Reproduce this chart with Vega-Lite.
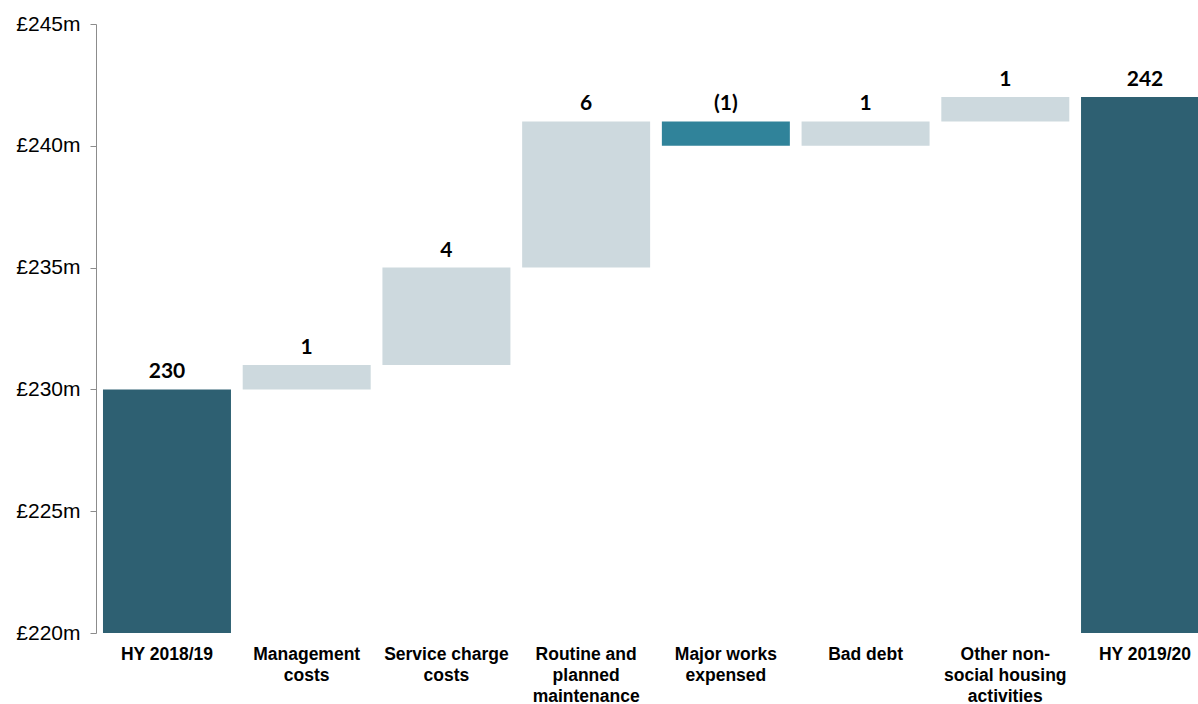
{
  "$schema": "https://vega.github.io/schema/vega-lite/v6.json",
  "autosize": "none",
  "width": 1120,
  "height": 609,
  "padding": {"left": 96, "top": 24, "right": 0, "bottom": 71},
  "background": "white",
  "config": {"view": {"stroke": null}},
  "data": {
    "values": [
      {"cat": "HY 2018/19", "start": 220, "end": 230, "label": "230", "kind": "total"},
      {"cat": "Management|costs", "start": 230, "end": 231, "label": "1", "kind": "increase"},
      {"cat": "Service charge|costs", "start": 231, "end": 235, "label": "4", "kind": "increase"},
      {"cat": "Routine and|planned|maintenance", "start": 235, "end": 241, "label": "6", "kind": "increase"},
      {"cat": "Major works|expensed", "start": 241, "end": 240, "label": "(1)", "kind": "decrease"},
      {"cat": "Bad debt", "start": 240, "end": 241, "label": "1", "kind": "increase"},
      {"cat": "Other non-|social housing|activities", "start": 241, "end": 242, "label": "1", "kind": "increase"},
      {"cat": "HY 2019/20", "start": 220, "end": 242, "label": "242", "kind": "total"}
    ]
  },
  "encoding": {
    "x": {
      "field": "cat",
      "type": "nominal",
      "sort": null,
      "scale": {"paddingInner": 0.084, "paddingOuter": 0.05},
      "axis": {
        "title": null,
        "domain": false,
        "ticks": false,
        "labelAngle": 0,
        "labelPadding": 12,
        "labelBaseline": "top",
        "labelFont": "Liberation Sans",
        "labelFontSize": 17.5,
        "labelFontWeight": "bold",
        "labelColor": "#000000",
        "labelLineHeight": 21,
        "labelLimit": 0,
        "labelExpr": "split(datum.label, '|')"
      }
    }
  },
  "layer": [
    {
      "mark": {"type": "bar"},
      "encoding": {
        "y": {
          "field": "start",
          "type": "quantitative",
          "scale": {"domain": [220, 245], "zero": false, "nice": false},
          "axis": {
            "title": null,
            "grid": false,
            "values": [220, 225, 230, 235, 240, 245],
            "labelExpr": "'£' + datum.value + 'm'",
            "domainColor": "#8c8c8c",
            "tickColor": "#8c8c8c",
            "tickSize": 6,
            "labelPadding": 10,
            "labelFont": "Liberation Sans",
            "labelFontSize": 21,
            "labelColor": "#000000"
          }
        },
        "y2": {"field": "end"},
        "color": {
          "field": "kind",
          "type": "nominal",
          "legend": null,
          "scale": {"domain": ["total", "increase", "decrease"], "range": ["#2E6072", "#CDD9DE", "#30839A"]}
        }
      }
    },
    {
      "mark": {"type": "text", "dy": -7, "baseline": "bottom", "font": "Lato", "fontSize": 21, "fontWeight": "bold", "color": "#000000"},
      "encoding": {
        "y": {"aggregate": "max", "field": "top", "type": "quantitative"},
        "text": {"field": "label"}
      },
      "transform": [{"calculate": "max(datum.start, datum.end)", "as": "top"}]
    }
  ]
}
